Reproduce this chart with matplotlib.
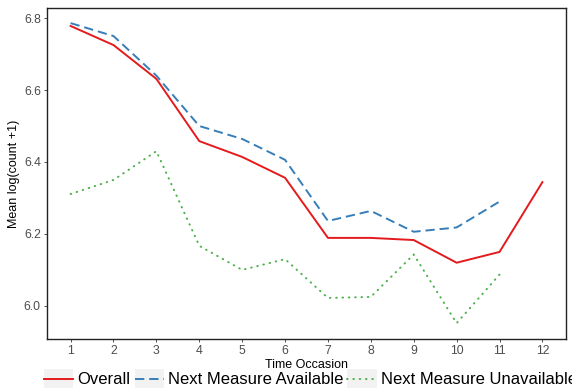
import matplotlib
matplotlib.use("Agg")
import matplotlib.pyplot as plt
from matplotlib.lines import Line2D
from matplotlib.patches import Rectangle
from matplotlib.legend_handler import HandlerLine2D

plt.rcParams['font.family'] = ['Liberation Sans', 'DejaVu Sans']

occasions = list(range(1, 13))
overall = [6.778, 6.725, 6.631, 6.458, 6.414, 6.356, 6.189, 6.189, 6.183, 6.120, 6.150, 6.344]
occ_next = list(range(1, 12))
next_avail = [6.786, 6.750, 6.640, 6.500, 6.464, 6.406, 6.236, 6.264, 6.206, 6.218, 6.290]
next_unavail = [6.311, 6.350, 6.430, 6.167, 6.100, 6.130, 6.022, 6.025, 6.143, 5.952, 6.087]
labels = ["Overall", "Next Measure Available", "Next Measure Unavailable"]
colors = ["#E41A1C", "#377EB8", "#4DAF4A"]
styles = ['-', (0, (4.8, 2.5)), (0, (0.3, 2.95))]
caps = ['butt', 'butt', 'round']


class KeyHandler(HandlerLine2D):
    def create_artists(self, legend, orig_handle, xdescent, ydescent, width, height,
                       fontsize, trans):
        bg = Rectangle((-xdescent, -ydescent - 0.35 * height), width, height * 1.7,
                       facecolor='#F2F2F2', edgecolor='none', transform=trans)
        arts = super().create_artists(legend, orig_handle, xdescent, ydescent, width,
                                      height, fontsize, trans)
        return [bg] + list(arts)


fig = plt.figure(figsize=(5.72, 3.90), dpi=100)
ax = fig.add_axes([0.0822, 0.1308, 0.9073, 0.8487])

for y, x, c, ls, cap in [(overall, occasions, colors[0], styles[0], caps[0]),
                         (next_avail, occ_next, colors[1], styles[1], caps[1]),
                         (next_unavail, occ_next, colors[2], styles[2], caps[2])]:
    ax.plot(x, y, color=c, lw=1.4, linestyle=ls, dash_capstyle=cap)

ax.set_xlim(0.45, 12.55)
ax.set_ylim(5.908, 6.828)
ax.set_xticks(occasions)
ax.set_yticks([6.0, 6.2, 6.4, 6.6, 6.8])
ax.set_yticklabels(["6.0", "6.2", "6.4", "6.6", "6.8"])
ax.tick_params(axis='both', colors='#333333', labelcolor='#4D4D4D', labelsize=8.8,
               length=2.5, width=0.6, pad=2)
for s in ax.spines.values():
    s.set_color('#222222')
    s.set_linewidth(1.0)

ax.set_xlabel("Time Occasion", fontsize=9, labelpad=1)
ax.set_ylabel("Mean log(count +1)", fontsize=9, labelpad=3)

handles = [Line2D([], [], color=c, lw=1.4, linestyle=ls, dash_capstyle=cap)
           for c, ls, cap in zip(colors, styles, caps)]
leg = fig.legend(handles, labels, loc='center left', bbox_to_anchor=(44 / 572, 0.026),
                 ncol=3, frameon=False, fontsize=12, handlelength=1.75, handletextpad=0.25,
                 columnspacing=0.25, borderaxespad=0, borderpad=0,
                 handler_map={Line2D: KeyHandler()})

fig.savefig("out.png", dpi=100)
